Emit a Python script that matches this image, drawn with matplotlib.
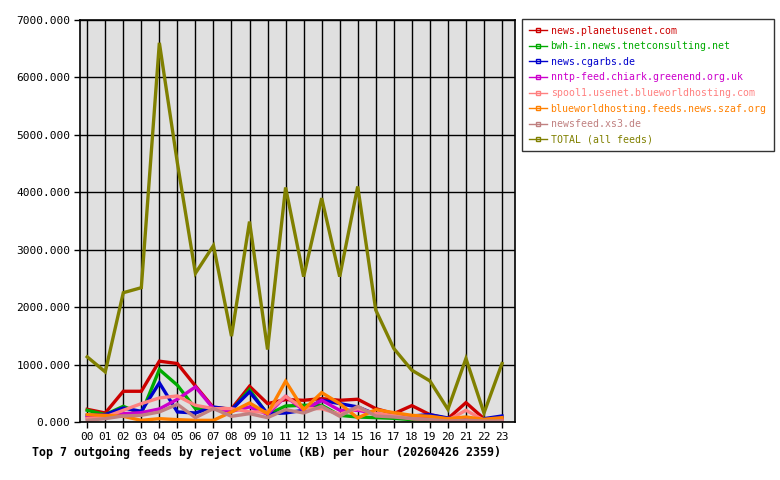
import matplotlib
matplotlib.use('Agg')
import matplotlib.pyplot as plt
from matplotlib.lines import Line2D

plt.rcParams['font.family'] = 'DejaVu Sans Mono'

# Stunden
hours = ['%02d' % h for h in range(24)]

# Werte je Feed (KB)
planetusenet = [221, 157, 535, 535, 1059, 1018, 628, 250, 227, 622, 320, 390,
                378, 407, 378, 396, 233, 145, 285, 128, 58, 337, 58, 58]
tnetconsulting = [204, 128, 273, 145, 913, 640, 233, 250, 204, 564, 128, 279,
                  291, 291, 116, 87, 76, 64, 41, 29, 6, 6, 6, 6]
cgarbs = [116, 128, 244, 186, 681, 175, 157, 262, 215, 524, 145, 157,
          204, 378, 320, 262, 134, 116, 105, 128, 70, 47, 58, 105]
chiark = [87, 99, 145, 163, 227, 396, 611, 233, 186, 262, 134, 448,
          204, 378, 204, 204, 145, 99, 76, 58, 29, 41, 29, 29]
spool1 = [58, 87, 204, 320, 419, 454, 291, 233, 233, 175, 175, 448,
          233, 233, 134, 233, 145, 116, 58, 41, 29, 204, 29, 17]
szaf = [128, 116, 99, 29, 58, 41, 29, 29, 175, 332, 145, 710,
        215, 512, 320, 70, 215, 163, 116, 99, 58, 87, 47, 76]
xs3 = [29, 58, 105, 116, 175, 308, 76, 233, 99, 145, 76, 215,
       157, 273, 99, 273, 105, 87, 58, 41, 17, 29, 17, 17]
total = [1134, 873, 2251, 2339, 6603, 4510, 2589, 3072, 1495, 3490, 1262, 4084,
         2531, 3898, 2531, 4101, 1949, 1280, 902, 716, 221, 1105, 157, 1018]

names = ['news.planetusenet.com', 'bwh-in.news.tnetconsulting.net', 'news.cgarbs.de',
         'nntp-feed.chiark.greenend.org.uk', 'spool1.usenet.blueworldhosting.com',
         'blueworldhosting.feeds.news.szaf.org', 'newsfeed.xs3.de', 'TOTAL (all feeds)']
series = [planetusenet, tnetconsulting, cgarbs, chiark, spool1, szaf, xs3, total]
colors = ['#cc0000', '#00aa00', '#0000cc', '#cc00cc', '#ff8080', '#ff8000', '#c08080', '#808000']

fig = plt.figure(figsize=(7.8, 4.8), dpi=100)
ax = fig.add_axes([80/780, 1 - 422/480, 435/780, 402/480])
ax.set_facecolor('#e0e0e0')

x = list(range(24))
for s, c in zip(series, colors):
    ax.plot(x, s, color=c, linewidth=2.4, solid_joinstyle='miter')

ax.set_xlim(-0.4, 23.72)
ax.set_ylim(0, 7000)
ax.set_xticks(x)
ax.set_xticklabels(hours, fontsize=8)
ax.set_yticks(range(0, 7001, 1000))
ax.set_yticklabels(['%d.000' % v for v in range(0, 7001, 1000)], fontsize=8)
ax.grid(True, color='black', linewidth=1.0)
ax.set_axisbelow(True)
ax.tick_params(length=4, width=1, direction='out', pad=3)
for sp in ax.spines.values():
    sp.set_linewidth(1.2)

fig.text(266/780, 1 - 452/480,
         'Top 7 outgoing feeds by reject volume (KB) per hour (20260426 2359)',
         ha='center', va='center', fontsize=8.35, fontweight='bold')

handles = [Line2D([], [], color=c, linewidth=1, marker='s', markersize=3,
                  markerfacecolor='none') for c in colors]
leg = fig.legend(handles, names, loc='upper left',
                 bbox_to_anchor=(522/780, 1 - 19/480), fontsize=7.1,
                 frameon=True, fancybox=False, edgecolor='black',
                 handlelength=1.8, handletextpad=0.4, labelspacing=0.56,
                 borderpad=0.7, borderaxespad=0)
leg.get_frame().set_linewidth(1)
for t, c in zip(leg.get_texts(), colors):
    t.set_color(c)

fig.savefig('out.png', dpi=100)
